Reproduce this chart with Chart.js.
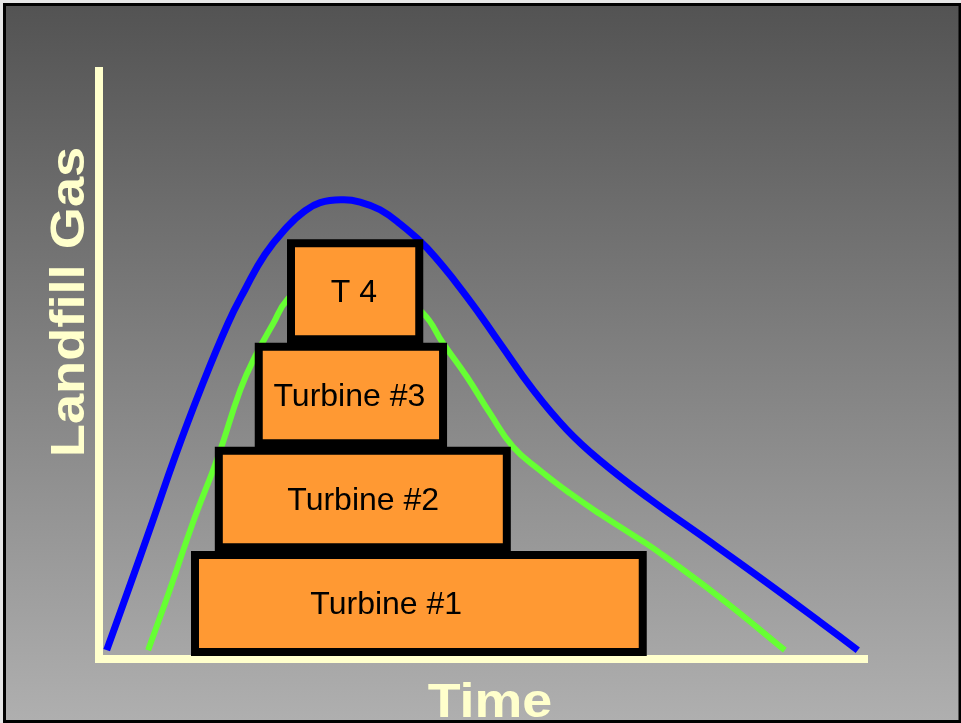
<!DOCTYPE html>
<html>
<head>
<meta charset="utf-8">
<script src="https://cdn.jsdelivr.net/npm/chart.js@4.4.1/dist/chart.umd.min.js"></script>
<style>
  html, body { margin: 0; padding: 0; background: #fff; }
  #wrap { width: 961px; height: 723px; }
</style>
</head>
<body>
<div id="wrap"><canvas id="myChart" width="961" height="723"></canvas></div>
<script>
// Gas curves (time 0-100, gas 0-100)
const blueTime = [1.0, 3.8, 6.9, 9.9, 13.2, 16.8, 19.0, 21.6, 24.5, 26.6, 28.8, 31.8, 34.0, 36.6, 39.2, 42.7, 47.9, 52.2, 56.5, 60.9, 65.2, 71.7, 78.3, 86.1, 93.9, 98.8];
const blueGas  = [1.5, 11.7, 23.1, 34.4, 45.8, 57.1, 62.8, 68.8, 73.5, 76.0, 77.6, 78.1, 77.7, 76.4, 74.0, 69.9, 61.6, 53.7, 45.8, 39.0, 33.8, 27.2, 21.1, 13.8, 6.3, 1.5];
const greenTime = [6.4, 9.2, 12.2, 15.5, 18.4, 20.3, 22.7, 24.5, 32.0, 42.2, 44.8, 47.9, 50.9, 53.9, 57.4, 61.3, 65.2, 69.5, 72.1, 80.9, 89.3];
const greenGas  = [1.5, 11.7, 23.1, 34.4, 45.8, 51.4, 57.1, 61.1, 70.6, 58.8, 53.7, 48.0, 41.8, 36.1, 32.1, 28.2, 24.7, 21.1, 18.9, 10.4, 1.5];

// Turbine boxes
const turbineLabels = ["Turbine #1", "Turbine #2", "Turbine #3", "T 4"];
const boxStart = [12.5, 15.6, 20.8, 25.0];
const boxEnd   = [70.8, 53.1, 44.8, 41.7];
const boxLow   = [1.2, 19.0, 36.7, 54.4];
const boxHigh  = [17.7, 35.4, 53.1, 70.7];
const labelTime = [37.4, 34.4, 32.6, 33.2];

const yTitle = "Landfill Gas";
const xTitle = "Time";

const cream = "#FFFFCC";

function toPoints(xs, ys) {
  return xs.map((x, i) => ({ x: x, y: ys[i] }));
}

// one closed line per turbine box, filled as a shape
const boxSets = turbineLabels.map((name, i) => ({
  label: name,
  data: [
    { x: boxStart[i], y: boxLow[i] },
    { x: boxStart[i], y: boxHigh[i] },
    { x: boxEnd[i], y: boxHigh[i] },
    { x: boxEnd[i], y: boxLow[i] },
    { x: boxStart[i], y: boxLow[i] },
  ],
  borderColor: "#000000",
  borderWidth: 8,
  backgroundColor: "#FF9933",
  fill: "shape",
  tension: 0,
  pointRadius: 0,
  borderJoinStyle: "miter",
  borderCapStyle: "square",
  order: 0,
}));

const backdrop = {
  id: "backdrop",
  beforeDraw(chart) {
    const ctx = chart.ctx;
    ctx.save();
    ctx.fillStyle = "#e6e6e6";
    ctx.fillRect(0, 0, chart.width, chart.height);
    const g = ctx.createLinearGradient(0, 5, 0, 720);
    g.addColorStop(0, "#535353");
    g.addColorStop(1, "#afafaf");
    ctx.fillStyle = g;
    ctx.fillRect(3, 3, 958, 720);
    ctx.strokeStyle = "#000000";
    ctx.lineWidth = 3;
    ctx.strokeRect(4.5, 4.5, 955.5, 717);
    ctx.restore();
  },
};

const boxText = {
  id: "boxText",
  afterDatasetsDraw(chart) {
    const ctx = chart.ctx;
    const xs = chart.scales.x;
    const ys = chart.scales.y;
    ctx.save();
    ctx.fillStyle = "#000000";
    ctx.font = '32px "Liberation Sans", Arial, sans-serif';
    ctx.textAlign = "center";
    ctx.textBaseline = "middle";
    turbineLabels.forEach((name, i) => {
      const px = xs.getPixelForValue(labelTime[i]);
      const py = ys.getPixelForValue((boxLow[i] + boxHigh[i]) / 2);
      ctx.fillText(name, px, py + 2);
    });
    ctx.restore();
  },
};

// big stretched axis titles
const axisTitles = {
  id: "axisTitles",
  afterDraw(chart) {
    const ctx = chart.ctx;
    ctx.save();
    ctx.fillStyle = cream;
    ctx.font = 'bold 48px "Liberation Sans", Arial, sans-serif';
    ctx.textAlign = "center";
    ctx.textBaseline = "alphabetic";

    ctx.save();
    ctx.translate(84, 302);
    ctx.rotate(-Math.PI / 2);
    ctx.scale(1.13, 1);
    ctx.fillText(yTitle, 0, 0);
    ctx.restore();

    ctx.save();
    ctx.translate(490, 717);
    ctx.scale(1.12, 1);
    ctx.fillText(xTitle, 0, 0);
    ctx.restore();
    ctx.restore();
  },
};

new Chart("myChart", {
  type: "line",
  data: {
    datasets: [
      ...boxSets,
      {
        label: "Gas 2",
        data: toPoints(greenTime, greenGas),
        borderColor: "#66FF33",
        borderWidth: 6,
        pointRadius: 0,
        fill: false,
        tension: 0.45,
        order: 1,
      },
      {
        label: "Gas 1",
        data: toPoints(blueTime, blueGas),
        borderColor: "#0000FF",
        borderWidth: 7,
        pointRadius: 0,
        fill: false,
        tension: 0.45,
        order: 2,
      },
    ],
  },
  options: {
    responsive: false,
    animation: false,
    devicePixelRatio: 1,
    layout: {
      padding: { left: 99, right: 94, top: 71, bottom: 64 },
    },
    plugins: {
      legend: { display: false },
      tooltip: { enabled: false },
    },
    scales: {
      x: {
        type: "linear",
        min: 0,
        max: 100,
        ticks: { display: false },
        grid: { display: false, drawTicks: false },
        border: { display: true, color: cream, width: 8 },
      },
      y: {
        type: "linear",
        min: 0,
        max: 100,
        ticks: { display: false },
        grid: { display: false, drawTicks: false },
        border: { display: true, color: cream, width: 8 },
      },
    },
  },
  plugins: [backdrop, boxText, axisTitles],
});
</script>
</body>
</html>
